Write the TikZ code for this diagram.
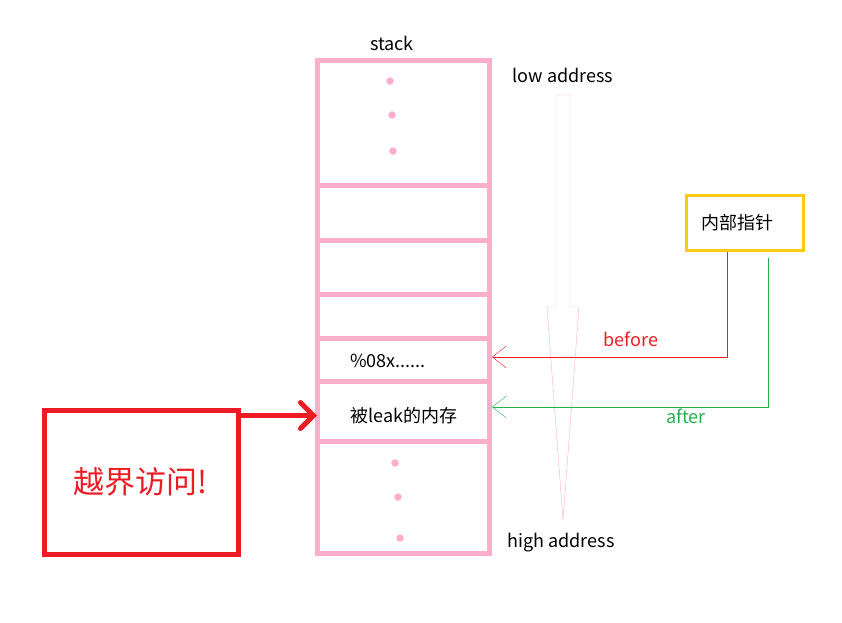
\documentclass[tikz,border=0pt]{standalone}
\usepackage{fontspec}
\setmainfont{Noto Sans CJK SC}
\usetikzlibrary{calc,arrows.meta}

\definecolor{stackpink}{RGB}{255,174,201}
\definecolor{paintred}{RGB}{237,28,36}
\definecolor{paintgreen}{RGB}{34,177,76}
\definecolor{ptrgold}{RGB}{255,201,14}

\begin{document}
\begin{tikzpicture}[x=1pt, y=-1pt]
%styles
\tikzstyle{textLine}=[rectangle, text=black, inner sep=0pt, font=\fontsize{18}{20}\selectfont]
\tikzstyle{cell}=[rectangle, draw=stackpink, line width=5pt, inner sep=0pt, outer sep=0pt, minimum width=172pt]
\tikzstyle{dotx}=[circle, fill=stackpink, inner sep=0pt, minimum size=7.5pt]
\tikzstyle{pointer}=[thin, -{Straight Barb[length=14pt,width=22pt]}]

\useasboundingbox (0,0) rectangle (842,622);

%stack cells
\node[cell, minimum height=125pt] (c1) at (403,122.5) {};
\node[cell, minimum height=55pt] (c2) at (403,212.5) {};
\node[cell, minimum height=54pt] (c3) at (403,267) {};
\node[cell, minimum height=44pt] (c4) at (403,316) {};
\node[cell, minimum height=43pt] (c5) at (403,359.5) {};
\node[cell, minimum height=60pt] (c6) at (403,411) {};
\node[cell, minimum height=112pt] (c7) at (403,497) {};

\node[dotx] (d1) at (390,81) {};
\node[dotx] (d2) at (392,115) {};
\node[dotx] (d3) at (393,151) {};
\node[dotx] (d4) at (395,463) {};
\node[dotx] (d5) at (398,497) {};
\node[dotx] (d6) at (400,538) {};

\node[textLine] (stk) at (392,43) {stack};
\node[textLine] (fmt) at (388,361) {\%08x......};
\node[textLine] (leak) at (404,416) {被leak的内存};

%direction arrow
\coordinate (s0) at (556,95);
\coordinate (s1) at (570,95);
\coordinate (s2) at (570,307);
\coordinate (s3) at (579,307);
\coordinate (tip) at (563,520);
\coordinate (s4) at (547,307);
\coordinate (s5) at (556,307);
\draw[stackpink, thin] (s0) -- (s1) -- (s2) -- (s3) -- (tip) -- (s4) -- (s5) -- cycle;
\node[textLine] (low) at (563,75) {low address};
\node[textLine] (high) at (561,543) {high address};

%inner pointer
\node[rectangle, draw=ptrgold, line width=3pt, minimum width=117pt, minimum height=55pt, inner sep=0pt] (ptr) at (744.5,222.5) {};
\node[textLine] (ptrtxt) at ($(ptr.center)+(-7.5,0)$) {内部指针};
\coordinate (rb) at ($(ptr.south)+(-17,0)$);
\coordinate (gb) at ($(ptr.south)+(24,6)$);
\draw[pointer, paintred] (rb) |- ($(c5.east)+(3,-2.5)$);
\draw[pointer, paintgreen] (gb) |- ($(c6.east)+(3,-4)$);
\node[textLine, text=paintred] (bef) at (631,339) {before};
\node[textLine, text=paintgreen] (aft) at (686,416) {after};

%out of bounds
\node[rectangle, draw=paintred, line width=5pt, minimum width=194pt, minimum height=144pt, inner sep=0pt,
  text=paintred, font=\fontsize{31}{34}\selectfont] (oob) at (141,482) {越界访问!};
\coordinate (a0) at ($(oob.north east)+(0,8)$);
\draw[paintred, line width=5pt, -{Straight Barb[length=13pt,width=26pt,line cap=round]}]
  (a0) -- (a0 -| c6.west);

\end{tikzpicture}
\end{document}
